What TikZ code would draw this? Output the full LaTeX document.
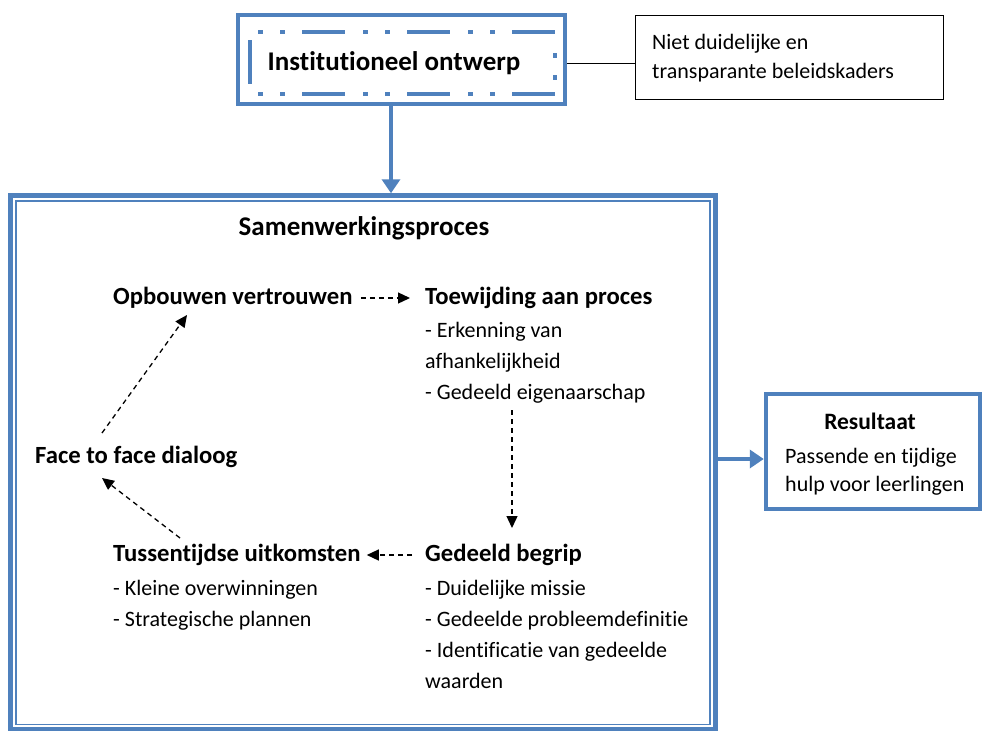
\documentclass[tikz,border=0pt]{standalone}
\usepackage{fontspec}
\setmainfont{Carlito}[Ligatures=NoCommon]
\usetikzlibrary{arrows.meta}
\definecolor{obl}{HTML}{4F81BD}
\begin{document}
\begin{tikzpicture}[x=1pt,y=-1pt,
  thickblue/.style={draw=obl,line width=4.5pt,inner sep=0pt},
  head/.style={font=\fontsize{24.7}{28}\selectfont\bfseries, inner sep=0pt, anchor=west},
  body/.style={font=\fontsize{22}{31}\selectfont, inner sep=0pt, anchor=north west, align=left},
  dasharrow/.style={dash pattern=on 5pt off 4pt, line width=1.3pt, -{Triangle[length=12pt,width=11pt]}},
  bluearrow/.style={draw=obl, line width=4pt, -{Triangle[length=14pt,width=18pt]}},
  dashdotline/.style={draw=obl, line width=4.5pt, dash pattern=on 5pt off 17pt on 5pt off 17pt on 43pt off 18pt}]
\useasboundingbox (0,0) rectangle (984,731);

% top box
\node[thickblue, minimum width=327pt, minimum height=89pt] (inst) at (401.5,59.5) {};
\draw[dashdotline] (258,32) -- (556,32);
\draw[dashdotline] (258,94) -- (556,94);
\draw[draw=obl, line width=4.5pt] (250,40) -- (250,84);
\draw[draw=obl, line width=4.5pt] (555,53) -- (555,58);
\draw[draw=obl, line width=4.5pt] (555,75) -- (555,80);
\node[head, anchor=center, font=\fontsize{27}{30}\selectfont\bfseries] (insttext) at (394,63) {Institutioneel ontwerp};

% note
\node[draw, line width=1pt, minimum width=308pt, minimum height=84pt, inner sep=0pt] (note) at (789.5,57) {};
\node[body, font=\fontsize{22}{29}\selectfont] (notetext) at (652,34) {Niet duidelijke en\\transparante beleidskaders};
\draw[line width=1pt] (inst.east |- insttext) -- (note.west |- insttext);

% big box
\node[thickblue, minimum width=705pt, minimum height=533.5pt] (big) at (363,462.25) {};
\node[draw=obl, line width=1.3pt, minimum width=694pt, minimum height=523.5pt, inner sep=0pt] (bigin) at (363,462.75) {};
\coordinate (ax) at (391,0);
\draw[bluearrow] (inst.south -| ax) -- (big.north -| ax);

\node[head, anchor=center, font=\fontsize{27}{30}\selectfont\bfseries] (samen) at (364,228) {Samenwerkingsproces};

% cycle
\node[head] (opb) at (113,298) {Opbouwen vertrouwen};
\node[head] (toe) at (425,298) {Toewijding aan proces};
\node[body] (toebody) at (425,322) {- Erkenning van\\afhankelijkheid\\- Gedeeld eigenaarschap};
\node[head] (ged) at (425,555) {Gedeeld begrip};
\node[body] (gedbody) at (425,580) {- Duidelijke missie\\- Gedeelde probleemdefinitie\\- Identificatie van gedeelde\\waarden};
\node[head] (tus) at (113,555) {Tussentijdse uitkomsten};
\node[body] (tusbody) at (113,580) {- Kleine overwinningen\\- Strategische plannen};
\node[head] (face) at (35,457) {Face to face dialoog};

\draw[dasharrow, shorten <=8pt, shorten >=15pt] (opb.east) -- (toe.west);
\coordinate (v1) at (512,410);
\coordinate (v2) at (512,528);
\draw[dasharrow] (v1) -- (v2);
\draw[dasharrow, shorten <=13pt, shorten >=6pt] (ged.west) -- (tus.east);
\coordinate (t1) at (180,538);
\coordinate (t2) at (102,478);
\draw[dasharrow] (t1) -- (t2);
\coordinate (f1) at (102,433);
\coordinate (f2) at (187,315);
\draw[dasharrow] (f1) -- (f2);

% result
\node[thickblue, minimum width=214pt, minimum height=115pt] (res) at (873,451.5) {};
\node[head, anchor=center, font=\fontsize{23.5}{26}\selectfont\bfseries] (restitle) at (870,421) {Resultaat};
\node[body, font=\fontsize{22}{28}\selectfont] (resbody) at (785,448.5) {Passende en tijdige\\hulp voor leerlingen};
\coordinate (ry) at (0,459);
\draw[bluearrow] (big.east |- ry) -- (res.west |- ry);
\end{tikzpicture}
\end{document}
